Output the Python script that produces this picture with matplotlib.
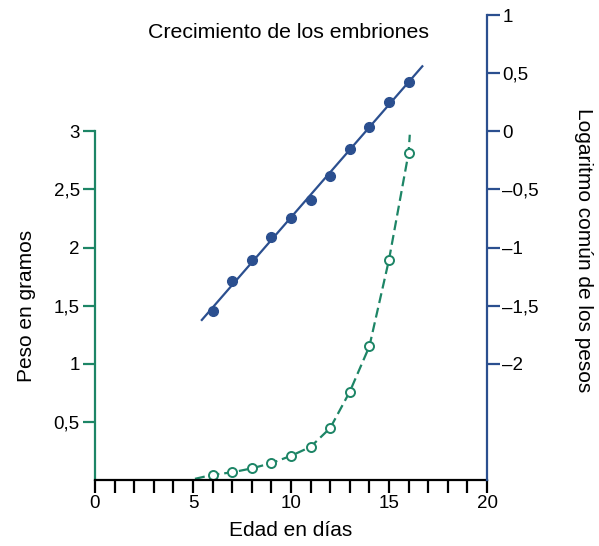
import numpy as np
import matplotlib
matplotlib.use('Agg')
import matplotlib.pyplot as plt

plt.rcParams['font.family'] = ['Liberation Sans', 'DejaVu Sans']

# embryo age (days) and measurements
days = [6, 7, 8, 9, 10, 11, 12, 13, 14, 15, 16]
weights = [0.045, 0.066, 0.10, 0.145, 0.208, 0.285, 0.447, 0.76, 1.15, 1.895, 2.815]
log_weights = [-1.55, -1.285, -1.105, -0.912, -0.75, -0.59, -0.385, -0.151, 0.034, 0.254, 0.425]

# dashed growth curve: runs from day 5 through the points up to the top of the axis
curve_days = [5.1] + days + [16.06]
curve_weights = [0.01] + weights + [2.97]

x_major = [0, 5, 10, 15, 20]
left_ticks = [0.5, 1, 1.5, 2, 2.5, 3]
left_labels = ['0,5', '1', '1,5', '2', '2,5', '3']
right_ticks = [-2, -1.5, -1, -0.5, 0, 0.5, 1]
right_labels = ['–2', '–1,5', '–1', '–0,5', '0', '0,5', '1']

green = '#1d8566'
blue = '#2b4f8f'
W, H = 599, 546

fig = plt.figure(figsize=(W / 100, H / 100), dpi=100)
ax = fig.add_axes([95 / W, (H - 480) / H, 392 / W, 465 / H])
ax.set_xlim(0, 20)
ax.set_ylim(0, 4)
ax2 = ax.twinx()
ax2.set_ylim(-3, 1)

for s in ['top', 'right']:
    ax.spines[s].set_visible(False)
for s in ['top', 'left', 'bottom']:
    ax2.spines[s].set_visible(False)
ax.spines['left'].set_bounds(0, 3)
ax.spines['left'].set_color(green)
ax.spines['left'].set_linewidth(1.6)
ax.spines['bottom'].set_linewidth(1.6)
ax2.spines['right'].set_color(blue)
ax2.spines['right'].set_linewidth(1.6)

# bottom axis: a tick every day, labels every 5
ax.set_xticks(x_major)
ax.set_xticks(np.arange(0, 21, 1), minor=True)
ax.tick_params(axis='x', which='both', direction='out', length=9, width=1.6,
               labelsize=13.5, pad=2)

ax.set_yticks(left_ticks)
ax.set_yticklabels(left_labels)
ax.tick_params(axis='y', direction='out', length=9, width=1.6, color=green,
               labelsize=13.5, pad=2)

ax2.set_yticks(right_ticks)
ax2.set_yticklabels(right_labels)
ax2.tick_params(axis='y', direction='out', length=9, width=1.6, color=blue,
                labelsize=13.5, pad=2)

# weights in grams (left axis)
ax.plot(curve_days, curve_weights, color=green, lw=1.6, dashes=(4.5, 2.2))
ax.plot(days, weights, 'o', ms=6.5, mfc='white', mec=green, mew=1.4)

# log10 of the weights with its regression line (right axis)
slope, intercept = np.polyfit(days, log_weights, 1)
fit_x = np.array([5.45, 16.7])
ax2.plot(fit_x, intercept + slope * fit_x, color=blue, lw=1.6)
ax2.plot(days, log_weights, 'o', ms=7, color=blue)

fig.text(288 / W, 1 - 32 / H, 'Crecimiento de los embriones', ha='center', va='center',
         fontsize=15.3)
fig.text(291 / W, 1 - 531 / H, 'Edad en días', ha='center', va='center', fontsize=15)
fig.text(27 / W, 1 - 306 / H, 'Peso en gramos', ha='center', va='center',
         rotation=90, fontsize=15)
fig.text(583 / W, 1 - 250 / H, 'Logaritmo común de los pesos', ha='center', va='center',
         rotation=270, fontsize=15)

fig.savefig('out.png', dpi=100)
